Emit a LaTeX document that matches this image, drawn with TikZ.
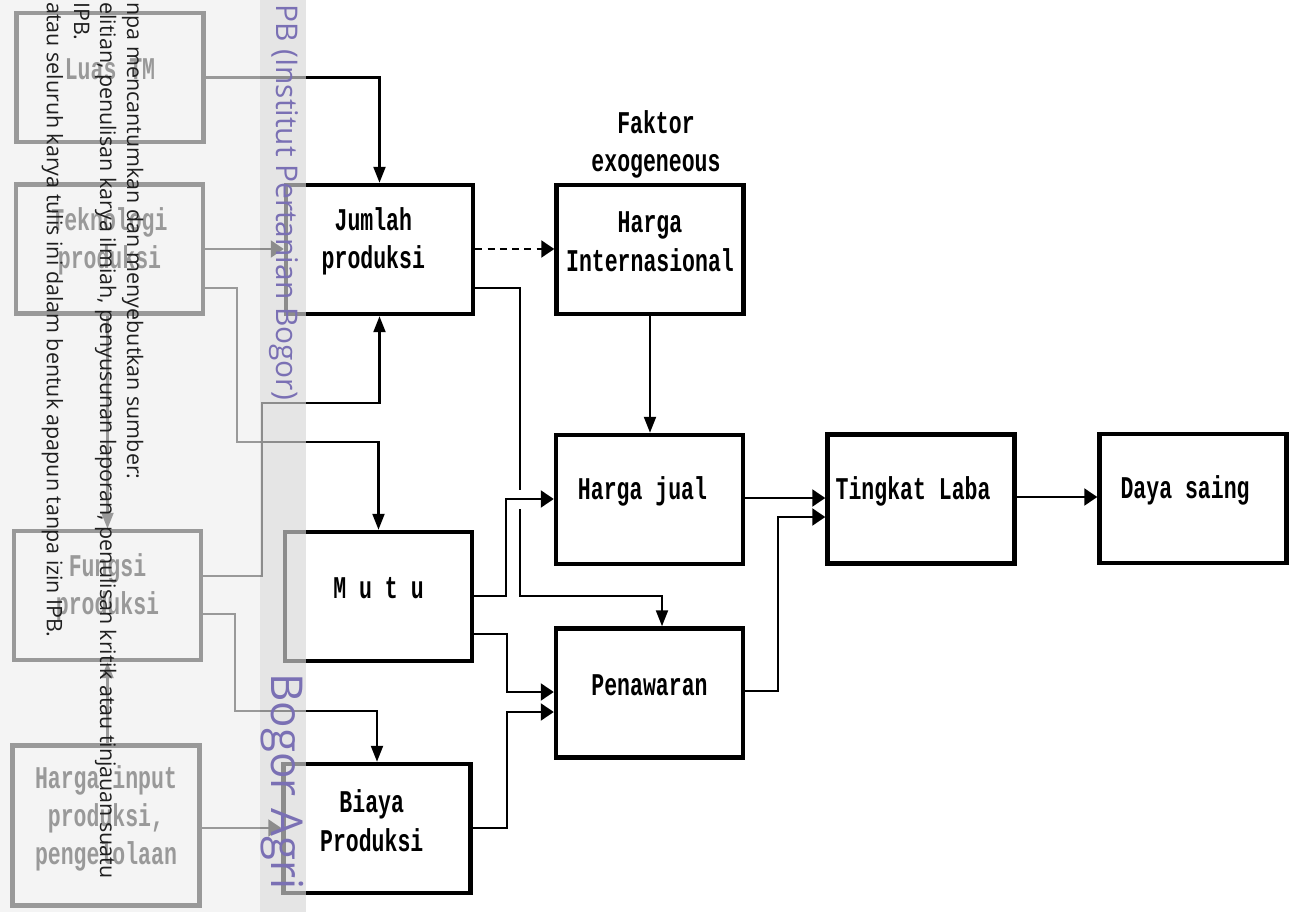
\documentclass[tikz,border=0pt]{standalone}
\usepackage{fontspec}
\usetikzlibrary{arrows.meta}
\newfontfamily\dotfont[FakeStretch=0.68]{Liberation Mono}
\newfontfamily\wmfont{Open Sans}
\definecolor{wmpurple}{RGB}{122,112,180}
\begin{document}
\begin{tikzpicture}[x=0.02cm,y=-0.02cm,
  box/.style={draw, line width=2.55pt, minimum width=3.74cm, minimum height=2.58cm, inner sep=0pt},
  lbl/.style={font=\dotfont\bfseries\fontsize{18}{21.8}\selectfont, align=center, inner sep=0pt},
  conn/.style={line width=1.2pt},
  ha/.style={conn, -{Triangle[length=0.26cm,width=0.34cm]}},
  va/.style={conn, -{Triangle[length=0.32cm,width=0.24cm]}},
  wm/.style={font=\wmfont\fontsize{12.2}{14}\selectfont, text=black!88, rotate=-90, inner sep=0pt},
  wmp/.style={font=\wmfont\fontsize{17}{20}\selectfont, text=wmpurple, rotate=-90, inner sep=0pt},
  wmq/.style={font=\wmfont\fontsize{25}{30}\selectfont, text=wmpurple, rotate=-90, inner sep=0pt}
]
\useasboundingbox (0,0) rectangle (1296,912);
\fill[white] (0,0) rectangle (1296,912);

% boxes
\node[box] (luas) at (110,77.5) {};
\node[box] (tek) at (109.5,249) {};
\node[box] (fungsi) at (107.5,595.5) {};
\node[box, minimum height=3.21cm] (hinput) at (106,825.5) {};
\node[box] (jumlah) at (379.5,249.5) {};
\node[box] (hint) at (650,249.5) {};
\node[box] (mutu) at (378.5,596.5) {};
\node[box] (biaya) at (377,828.5) {};
\node[box] (hjual) at (649.5,499.5) {};
\node[box] (pen) at (649.5,693) {};
\node[box] (tl) at (921,499) {};
\node[box] (ds) at (1193,498.5) {};

% labels
\node[lbl] (luast) at ([yshift=4.5pt]luas.center) {Luas TM};
\node[lbl] (tekt) at ([yshift=4.5pt]tek.center) {Teknologi\\produksi};
\node[lbl] (fungsit) at ([yshift=4.5pt]fungsi.center) {Fungsi\\produksi};
\node[lbl] (hinputt) at ([yshift=4pt]hinput.center) {Harga input\\produksi,\\pengelolaan};
\node[lbl] (jumlaht) at ([xshift=-3.5pt,yshift=4.5pt]jumlah.center) {Jumlah\\produksi};
\node[lbl] (hintt) at ([yshift=4.5pt]hint.center) {Harga\\Internasional};
\node[lbl] (faktor) at (656,144.5) {Faktor\\exogeneous};
\node[lbl] (mutut) at ([yshift=4.5pt]mutu.center) {M u t u};
\node[lbl] (biayat) at ([xshift=-3pt,yshift=4.5pt]biaya.center) {Biaya\\Produksi};
\node[lbl] (hjualt) at ([xshift=-4pt,yshift=4.5pt]hjual.center) {Harga jual};
\node[lbl] (pent) at ([yshift=4.5pt]pen.center) {Penawaran};
\node[lbl] (tlt) at ([xshift=-4.5pt,yshift=4.5pt]tl.center) {Tingkat Laba};
\node[lbl] (dst) at ([xshift=-4.5pt,yshift=4.5pt]ds.center) {Daya saing};

% connectors
\draw[va] (luas.east) -| (jumlah.north);
\draw[ha] (tek.east) -- (tek.east -| jumlah.west);
\draw[va] (tek.east |- 0,288) -- (237,288) -- (237,442) -| (mutu.north);
\draw[va] (tek.south -| fungsi.north) -- (fungsi.north);
\draw[va] (hinput.north -| fungsi.south) -- (fungsi.south);
\draw[va] (fungsi.east |- 0,576) -- (262,576) -- (262,403) -| (jumlah.south);
\draw[va] (fungsi.east |- 0,614) -- (235,614) -- (235,711) -| (biaya.north);
\draw[ha] (hinput.east |- 0,828) -- (biaya.west |- 0,828);
\draw[ha, dash pattern=on 4pt off 3pt] (jumlah.east |- 0,249) -- (hint.west |- 0,249);
\draw[conn] (jumlah.east |- 0,288) -- (520,288) -- (520,490);
\draw[va] (520,509) -- (520,596) -- (662,596) -- (pen.north -| 662,0);
\draw[va] (hint.south) -- (hint.south |- hjual.north);
\draw[ha] (mutu.east |- 0,596) -- (506,596) -- (506,499) -- (hjual.west |- 0,499);
\draw[ha] (mutu.east |- 0,634) -- (507,634) -- (507,692) -- (pen.west |- 0,692);
\draw[ha] (biaya.east |- 0,828) -- (507,828) -- (507,712) -- (pen.west |- 0,712);
\draw[ha] (hjual.east |- 0,498) -- (tl.west |- 0,498);
\draw[ha] (pen.east |- 0,691) -- (778,691) -- (778,517) -- (tl.west |- 0,517);
\draw[ha] (tl.east |- 0,497) -- (ds.west |- 0,497);

% watermark overlay
\fill[black!6.7, opacity=0.643] (0,0) rectangle (260,912);
\fill[black!15.4, opacity=0.65] (260,0) rectangle (306,912);
\node[wm, anchor=base west] (wa) at (127,2) {npa mencantumkan dan menyebutkan sumber:};
\node[wm, anchor=base west] (wb) at (100,2) {elitian, penulisan karya ilmiah, penyusunan laporan, penulisan kritik atau tinjauan suatu};
\node[wm, anchor=base west] (wc) at (74,2) {IPB.};
\node[wm, anchor=base west] (wd) at (47,2) {atau seluruh karya tulis ini dalam bentuk apapun tanpa izin IPB.};
\node[wmp, anchor=base west] (pa) at (276,4) {PB (Institut Pertanian Bogor)};
\node[wmq, anchor=base west] (pb) at (271,673) {Bogor Agri};
\end{tikzpicture}
\end{document}
